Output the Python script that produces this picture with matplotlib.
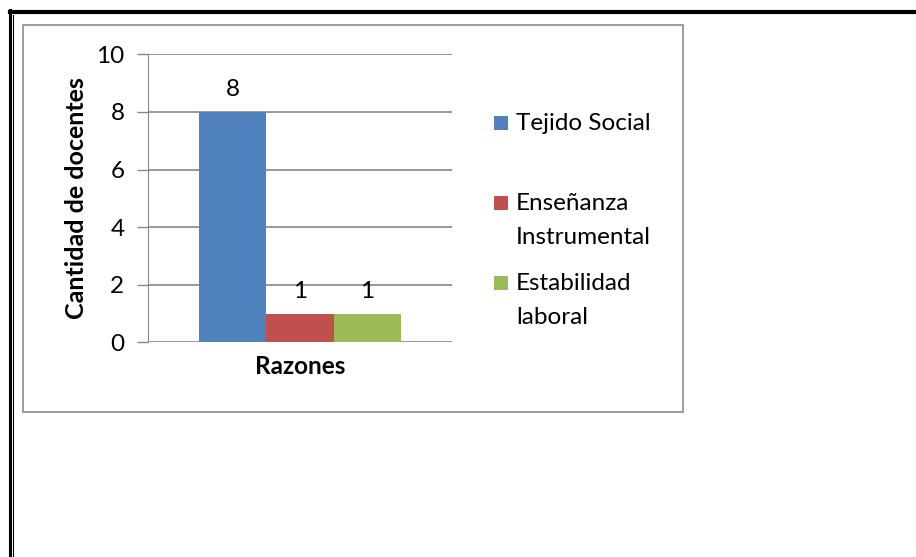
import matplotlib
matplotlib.use("Agg")
import matplotlib.pyplot as plt
from matplotlib.patches import Rectangle
from matplotlib.lines import Line2D

plt.rcParams['font.family'] = ['Lato', 'DejaVu Sans']

categories = ["Razones"]
series = ["Tejido Social", "Enseñanza\nInstrumental", "Estabilidad\nlaboral"]
values = [8, 1, 1]
colors = ["#4F81BD", "#C0504D", "#9BBB59"]
yticks = [0, 2, 4, 6, 8, 10]

W, H = 916, 557
fig = plt.figure(figsize=(W / 100, H / 100), dpi=100)

def fx(px):
    return px / W

def fy(py):
    return 1 - py / H

# page borders (table cell)
fig.add_artist(Line2D([fx(9.7), fx(9.7)], [fy(10), fy(557)], color="black", lw=2.2))
fig.add_artist(Line2D([fx(9.7), fx(916)], [fy(12), fy(12)], color="black", lw=3.0))
fig.add_artist(Line2D([fx(13), fx(13)], [fy(15), fy(557)], color="black", lw=0.8))

# chart area box
fig.add_artist(Rectangle((fx(22.5), fy(412)), fx(683) - fx(22.5), fy(25) - fy(412),
                         fill=False, edgecolor="#8C8C8C", lw=1.2))

FS = 17.5
ax = fig.add_axes([fx(148), fy(342.3), fx(452) - fx(148), fy(54.3) - fy(342.3)])
w = 1 / 4.5
for i, (name, v, c) in enumerate(zip(series, values, colors)):
    x = (i - 1) * w
    ax.bar(x, v, width=w, color=c, zorder=3)
    ax.text(x, v + 0.4, str(v), ha="center", va="bottom", fontsize=FS)

ax.set_xlim(-0.5, 0.5)
ax.set_ylim(0, 10)
ax.set_yticks(yticks)
ax.set_yticklabels([str(t) for t in yticks], fontsize=FS)
ax.tick_params(axis="y", length=8, width=1, color="#868686", pad=9)
ax.set_xticks([0])
ax.set_xticklabels(categories, fontsize=17.5, fontweight="bold")
ax.tick_params(axis="x", length=0, pad=9)
ax.grid(axis="y", color="#868686", lw=1.2, zorder=0)
for s in ["top", "right", "bottom"]:
    ax.spines[s].set_visible(False)
ax.spines["left"].set_color("#868686")
ax.set_ylabel("Cantidad de docentes", fontsize=18, fontweight="bold", labelpad=6)

# legend
leg_y = [123, 203, 283]
for name, c, y in zip(series, colors, leg_y):
    fig.add_artist(Rectangle((fx(494), fy(y + 7)), fx(14), fy(0) - fy(14),
                             facecolor=c, edgecolor="none"))
    if "\n" in name:
        fig.text(fx(516), fy(y - 10), name, fontsize=FS, va="top",
                 ha="left", linespacing=1.75)
    else:
        fig.text(fx(516), fy(y), name, fontsize=FS, va="center", ha="left")

fig.savefig("out.png", dpi=100)
